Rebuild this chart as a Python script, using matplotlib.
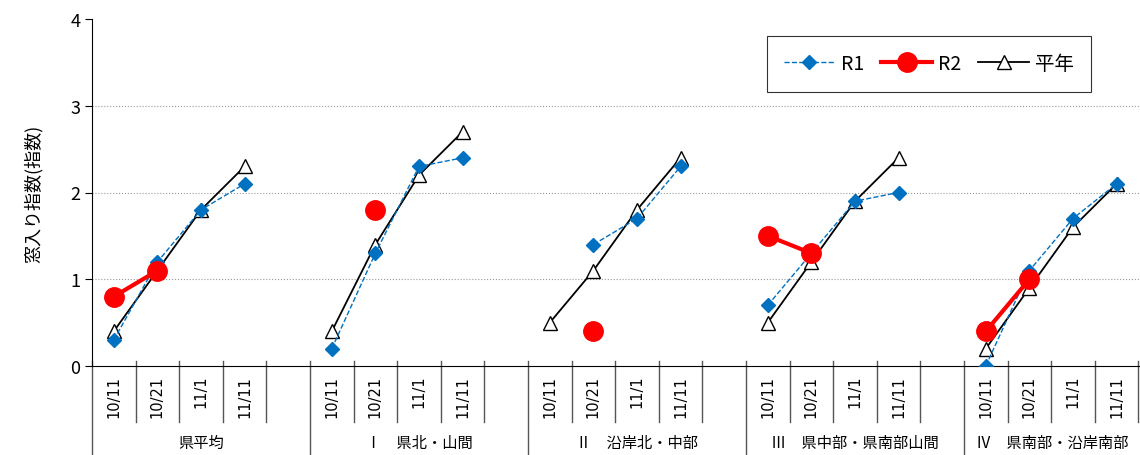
import numpy as np
import matplotlib.pyplot as plt
from matplotlib.lines import Line2D

plt.rcParams['font.family'] = ['Noto Sans CJK JP', 'DejaVu Sans']

groups = ['県平均', 'Ⅰ　県北・山間', 'Ⅱ　沿岸北・中部', 'Ⅲ　県中部・県南部山間', 'Ⅳ　県南部・沿岸南部']
dates = ['10/11', '10/21', '11/1', '11/11']
nan = np.nan
r1 = [[0.3, 1.2, 1.8, 2.1], [0.2, 1.3, 2.3, 2.4], [nan, 1.4, 1.7, 2.3],
      [0.7, 1.3, 1.9, 2.0], [0.0, 1.1, 1.7, 2.1]]
r2 = [[0.8, 1.1, nan, nan], [nan, 1.8, nan, nan], [nan, 0.4, nan, nan],
      [1.5, 1.3, nan, nan], [0.4, 1.0, nan, nan]]
normal = [[0.4, 1.1, 1.8, 2.3], [0.4, 1.4, 2.2, 2.7], [0.5, 1.1, 1.8, 2.4],
          [0.5, 1.2, 1.9, 2.4], [0.2, 0.9, 1.6, 2.1]]

def flat(series):
    out = []
    for g in series:
        out += list(g) + [nan]
    return np.array(out)

x = np.arange(len(groups) * 5)
fig = plt.figure(figsize=(11.4, 4.56), dpi=100)
ax = fig.add_axes([92/1140, 1-367/456, 1090/1140, 347/456])

ax.plot(x, flat(r1), color='#0070C0', ls='--', lw=1, marker='D', ms=7, label='R1', zorder=3)
ax.plot(x, flat(r2), color='#FF0000', lw=3, marker='o', ms=14, label='R2', zorder=4)
ax.plot(x, flat(normal), color='black', lw=1.3, marker='^', ms=10, mfc='white', mec='black', label='平年', zorder=2)

ax.set_xlim(-0.5, len(x) - 0.5)
ax.set_ylim(0, 4)
ax.set_yticks([0, 1, 2, 3, 4])
ax.tick_params(axis='y', labelsize=13, length=5)
ax.set_xticks([])
for y in [1, 2, 3]:
    ax.axhline(y, color='#999999', ls=':', lw=0.8, zorder=0)
for s in ['top', 'right']:
    ax.spines[s].set_visible(False)
ax.set_ylabel('窓入り指数(指数)', fontsize=13, labelpad=20)

trans = ax.get_xaxis_transform()
vis_right = (1140 - 92) / 43.6 - 0.5  # visible right edge in data units
for gi, g in enumerate(groups):
    base = gi * 5
    for di, d in enumerate(dates):
        ax.text(base + di, -0.025, d, rotation=90, ha='center', va='top', fontsize=10.5,
                transform=trans, family=['DejaVu Sans'])
    for k in range(1, 5):
        ax.add_line(Line2D([base + k - 0.5] * 2, [-0.16, 0.015], color='#555555', lw=1,
                           transform=trans, clip_on=False))
    ax.add_line(Line2D([base - 0.5] * 2, [-0.26, 0.015], color='#555555', lw=1,
                       transform=trans, clip_on=False))
    gx = base + 2 if gi < len(groups) - 1 else (base - 0.5 + vis_right) / 2
    ax.text(gx, -0.22, g, ha='center', va='center', fontsize=11, transform=trans)

leg = ax.legend(loc='upper left', bbox_to_anchor=((757-92)/1090, 1-7/347), ncol=3,
                fontsize=14, frameon=True, fancybox=False, edgecolor='black',
                borderpad=0.9, handlelength=2.6, handletextpad=0.3, columnspacing=0.9)
leg.get_frame().set_linewidth(0.8)

fig.savefig('out.png', dpi=100)
